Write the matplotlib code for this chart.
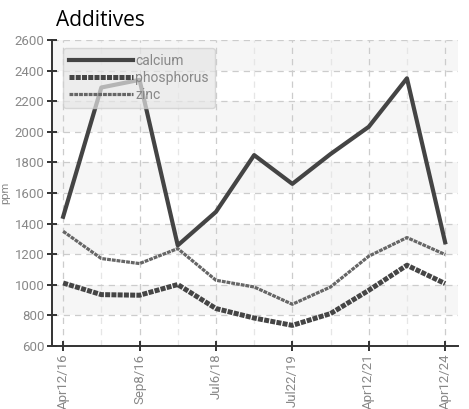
import matplotlib
matplotlib.use('Agg')
from matplotlib import pyplot as plt

# Additive levels by sample date (ppm)
labels = ['Apr12/16', '', 'Sep8/16', '', 'Jul6/18', '', 'Jul22/19', '', 'Apr12/21', '', 'Apr12/24']
calcium = [1445, 2290, 2340, 1258, 1477, 1848, 1660, 1855, 2033, 2350, 1278]
phosphorus = [1012, 936, 932, 1002, 845, 783, 735, 812, 964, 1128, 1008]
zinc = [1350, 1172, 1139, 1237, 1030, 986, 873, 986, 1187, 1309, 1198]

plt.rcParams['font.family'] = ['Roboto', 'DejaVu Sans']

fig = plt.figure(figsize=(4.69, 4.09), dpi=100)
ax = fig.add_axes([0.111, 0.154, 0.865, 0.748])

x = list(range(len(labels)))

# alternating background bands
for lo in range(800, 2600, 400):
    ax.axhspan(lo, lo + 200, color='#f6f6f6', zorder=0, lw=0)

ax.plot(x, calcium, color='#444444', lw=3.0, label='calcium', zorder=3)
ax.plot(x, phosphorus, color='#454545', lw=3.6, ls=(0, (1.0, 0.25)),
        label='phosphorus', zorder=3)
ax.plot(x, zinc, color='#666666', lw=2.3, ls=(0, (1.2, 0.3)),
        label='zinc', zorder=3)

ax.set_xlim(-0.29, 10.33)
ax.set_ylim(600, 2600)
ax.set_yticks(range(600, 2601, 200))
major = [i for i in x if labels[i]]
ax.set_xticks(major)
ax.set_xticklabels([labels[i] for i in major], rotation=90)
ax.set_xticks([i for i in x if not labels[i]], minor=True)

ax.grid(True, which='major', ls=(0, (5, 4)), color='#cccccc', lw=0.9)
ax.grid(True, which='minor', axis='x', ls=(0, (5, 4)), color='#e6e6e6', lw=0.9)
ax.set_axisbelow(True)

for s in ['top', 'right']:
    ax.spines[s].set_visible(False)
for s in ['left', 'bottom']:
    ax.spines[s].set_color('#333333')
    ax.spines[s].set_linewidth(1.4)

ax.tick_params(which='major', direction='inout', length=7, width=1.4,
               color='#333333', labelsize=9.5, labelcolor='#888888', pad=2)
ax.tick_params(which='minor', length=0)

ax.set_ylabel('ppm', fontsize=8, color='#888888', labelpad=3)
ax.set_title('Additives', loc='left', fontsize=15, family='Open Sans',
             x=0.01, pad=10)

leg = ax.legend(loc='upper left', bbox_to_anchor=(0.01, 0.997), fontsize=10,
                handlelength=4.6, handletextpad=0.15, labelspacing=0.2,
                borderpad=0.45, fancybox=True, framealpha=0.7,
                edgecolor='#cccccc', facecolor='#e6e6e6')
for t in leg.get_texts():
    t.set_color('#888888')

fig.savefig('out.png', dpi=100)
